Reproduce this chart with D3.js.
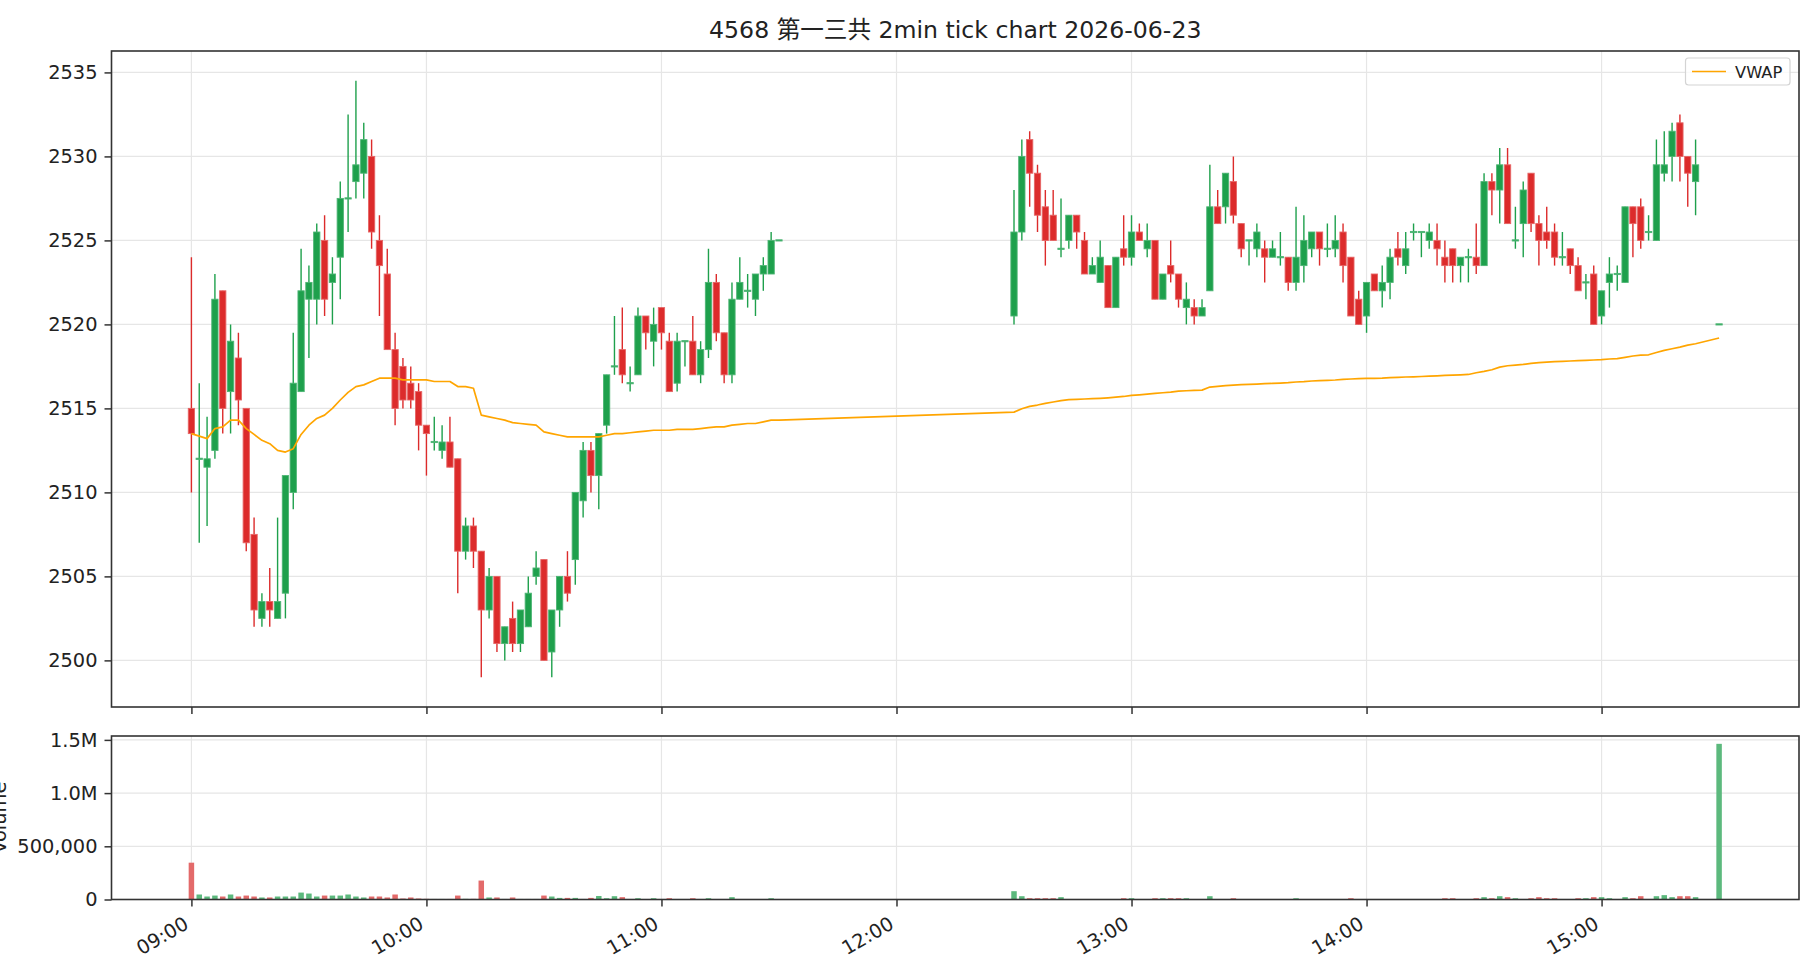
<!DOCTYPE html>
<html>
<head>
<meta charset="utf-8">
<script src="https://cdn.jsdelivr.net/npm/d3@7"></script>
<style>
  html, body { margin: 0; padding: 0; background: #ffffff; }
  svg { display: block; }
  text { font-family: "DejaVu Sans", "Noto Sans CJK JP", sans-serif; fill: #222; }
</style>
</head>
<body>
<svg id="chart" width="1820" height="980"></svg>
<script>
// ---------------- DATA ----------------
const chartTitle = "4568 第一三共 2min tick chart 2026-06-23";
const tradeDate = [2026, 5, 23];

const times = [
  "09:00","09:02","09:04","09:06","09:08","09:10","09:12","09:14","09:16","09:18",
  "09:20","09:22","09:24","09:26","09:28","09:30","09:32","09:34","09:36","09:38",
  "09:40","09:42","09:44","09:46","09:48","09:50","09:52","09:54","09:56","09:58",
  "10:00","10:02","10:04","10:06","10:08","10:10","10:12","10:14","10:16","10:18",
  "10:20","10:22","10:24","10:26","10:28","10:30","10:32","10:34","10:36","10:38",
  "10:40","10:42","10:44","10:46","10:48","10:50","10:52","10:54","10:56","10:58",
  "11:00","11:02","11:04","11:06","11:08","11:10","11:12","11:14","11:16","11:18",
  "11:20","11:22","11:24","11:26","11:28","11:30",
  "12:30","12:32","12:34","12:36","12:38","12:40","12:42","12:44","12:46","12:48",
  "12:50","12:52","12:54","12:56","12:58",
  "13:00","13:02","13:04","13:06","13:08","13:10","13:12","13:14","13:16","13:18",
  "13:20","13:22","13:24","13:26","13:28","13:30","13:32","13:34","13:36","13:38",
  "13:40","13:42","13:44","13:46","13:48","13:50","13:52","13:54","13:56","13:58",
  "14:00","14:02","14:04","14:06","14:08","14:10","14:12","14:14","14:16","14:18",
  "14:20","14:22","14:24","14:26","14:28","14:30","14:32","14:34","14:36","14:38",
  "14:40","14:42","14:44","14:46","14:48","14:50","14:52","14:54","14:56","14:58",
  "15:00","15:02","15:04","15:06","15:08","15:10","15:12","15:14","15:16","15:18",
  "15:20","15:22","15:24","15:30"
];

const opens = [
  2515.0,2512.0,2511.5,2512.5,2522.0,2516.0,2518.0,2515.0,2507.5,2502.5,
  2503.5,2502.5,2504.0,2510.0,2516.0,2521.5,2521.5,2525.0,2522.5,2524.0,
  2527.5,2528.5,2529.0,2530.0,2525.0,2523.0,2518.5,2517.5,2516.5,2516.0,
  2514.0,2513.0,2512.5,2513.0,2512.0,2506.5,2508.0,2506.5,2503.0,2505.0,
  2501.0,2502.5,2501.0,2502.0,2505.0,2506.0,2500.5,2503.0,2505.0,2506.0,
  2509.5,2512.5,2511.0,2514.0,2517.5,2518.5,2516.5,2517.0,2520.5,2519.0,
  2521.0,2519.0,2516.5,2519.0,2519.0,2517.0,2518.5,2522.5,2519.5,2517.0,
  2521.5,2522.0,2521.5,2523.0,2523.0,2525.0,
  2520.5,2525.5,2531.0,2529.0,2527.0,2526.5,2524.5,2525.0,2526.5,2525.0,
  2523.0,2522.5,2523.5,2521.0,2524.5,
  2524.0,2525.5,2524.5,2525.0,2521.5,2523.5,2523.0,2521.0,2521.0,2520.5,
  2522.0,2527.0,2527.0,2528.5,2526.0,2525.0,2524.5,2524.5,2524.0,2524.0,
  2524.0,2522.5,2523.5,2524.5,2525.5,2524.5,2524.5,2525.5,2524.0,2521.5,
  2520.5,2523.0,2522.0,2522.5,2524.5,2523.5,2525.5,2525.5,2525.0,2525.0,
  2524.0,2524.5,2523.5,2524.0,2524.0,2523.5,2528.5,2528.0,2529.5,2525.0,
  2526.0,2529.0,2526.0,2525.5,2525.5,2524.0,2524.5,2523.5,2522.5,2523.0,
  2520.5,2522.5,2523.0,2522.5,2527.0,2527.0,2525.5,2525.0,2529.0,2530.0,
  2532.0,2530.0,2528.5,2520.0
];

const highs = [
  2524.0,2516.5,2514.5,2523.0,2522.0,2520.0,2519.5,2515.0,2508.5,2504.0,
  2505.5,2508.5,2511.0,2519.5,2524.5,2523.5,2526.0,2526.5,2524.0,2528.5,
  2532.5,2534.5,2532.0,2531.0,2526.5,2524.5,2519.5,2518.0,2517.5,2516.5,
  2514.0,2514.5,2514.0,2514.5,2512.0,2508.5,2508.5,2506.5,2505.5,2505.0,
  2502.0,2503.5,2503.0,2505.0,2506.5,2506.0,2503.0,2505.0,2506.5,2510.0,
  2513.0,2513.0,2513.5,2517.0,2520.5,2521.0,2517.5,2521.0,2520.5,2521.0,
  2521.0,2519.5,2519.5,2519.0,2520.5,2519.0,2524.5,2523.0,2519.5,2522.5,
  2524.0,2523.0,2523.0,2524.0,2525.5,2525.0,
  2528.0,2531.0,2531.5,2529.5,2528.0,2528.0,2527.5,2526.5,2526.5,2525.5,
  2524.0,2525.0,2523.5,2524.0,2526.5,
  2526.5,2526.0,2526.0,2525.0,2523.0,2525.0,2523.0,2522.5,2521.5,2521.5,
  2529.5,2528.0,2529.0,2530.0,2526.0,2525.0,2526.0,2525.0,2525.0,2525.5,
  2524.0,2527.0,2526.5,2525.5,2525.5,2526.0,2526.5,2526.0,2524.0,2522.0,
  2522.5,2523.0,2523.5,2524.5,2525.5,2525.5,2526.0,2525.5,2526.0,2526.0,
  2525.0,2524.5,2524.0,2524.5,2526.0,2529.0,2529.0,2530.5,2530.5,2527.0,
  2528.5,2529.0,2526.5,2527.0,2526.0,2525.5,2524.5,2524.0,2523.0,2523.5,
  2522.0,2524.0,2523.5,2527.0,2527.0,2527.5,2526.5,2531.0,2531.5,2532.0,
  2532.5,2530.0,2531.0,2520.0
];

const lows = [
  2510.0,2507.0,2508.0,2512.0,2513.5,2513.5,2514.0,2506.5,2502.0,2502.0,
  2502.0,2502.5,2502.5,2509.0,2516.0,2518.0,2520.0,2520.5,2520.0,2521.5,
  2525.5,2527.5,2527.5,2524.5,2520.5,2518.5,2514.0,2515.0,2515.0,2512.5,
  2511.0,2512.5,2512.0,2511.5,2504.0,2506.0,2505.5,2499.0,2502.5,2500.5,
  2500.0,2500.5,2500.5,2502.0,2504.5,2500.0,2499.0,2502.0,2503.5,2504.5,
  2508.5,2510.0,2509.0,2513.5,2517.0,2516.5,2516.0,2517.0,2518.5,2517.5,
  2518.5,2516.0,2516.0,2517.5,2517.0,2516.5,2518.0,2519.0,2516.5,2516.5,
  2521.5,2521.0,2520.5,2522.0,2523.0,2525.0,
  2520.0,2525.0,2527.0,2525.5,2523.5,2525.0,2524.0,2524.5,2524.5,2523.0,
  2523.0,2522.5,2521.0,2521.0,2523.5,
  2523.5,2525.0,2524.0,2521.5,2521.5,2522.5,2521.0,2520.0,2520.0,2520.5,
  2522.0,2526.0,2526.0,2526.0,2524.0,2523.5,2524.0,2522.5,2524.0,2523.5,
  2522.0,2522.0,2522.5,2524.0,2523.5,2524.0,2524.0,2522.5,2520.5,2520.0,
  2519.5,2522.0,2521.0,2521.5,2523.5,2523.0,2525.0,2524.0,2524.5,2523.5,
  2522.5,2522.5,2522.5,2522.5,2523.0,2523.5,2526.5,2526.0,2526.0,2524.5,
  2524.0,2525.5,2523.5,2524.5,2523.5,2523.5,2523.0,2522.0,2521.5,2520.0,
  2520.0,2521.0,2522.0,2522.5,2524.0,2524.5,2525.0,2525.0,2528.5,2528.5,
  2528.5,2527.0,2526.5,2520.0
];

const closes = [
  2513.5,2512.0,2512.0,2521.5,2515.0,2519.0,2515.5,2507.0,2503.0,2503.5,
  2503.0,2503.5,2511.0,2516.5,2522.0,2522.5,2525.5,2521.5,2523.0,2527.5,
  2527.5,2529.5,2531.0,2525.5,2523.5,2518.5,2515.0,2515.5,2515.5,2514.0,
  2513.5,2513.0,2513.0,2511.5,2506.5,2508.0,2506.5,2503.0,2505.0,2501.0,
  2502.0,2501.0,2503.0,2504.0,2505.5,2500.0,2503.0,2505.0,2504.0,2510.0,
  2512.5,2511.0,2513.5,2517.0,2517.5,2517.0,2516.5,2520.5,2519.5,2520.0,
  2519.5,2516.0,2519.0,2519.0,2517.0,2518.5,2522.5,2519.5,2517.0,2521.5,
  2522.5,2522.0,2523.0,2523.5,2525.0,2525.0,
  2525.5,2530.0,2529.0,2526.5,2525.0,2525.0,2524.5,2526.5,2525.5,2523.0,
  2523.5,2524.0,2521.0,2524.0,2524.0,
  2525.5,2525.0,2525.0,2521.5,2523.0,2523.0,2521.5,2521.5,2520.5,2521.0,
  2527.0,2526.0,2529.0,2526.5,2524.5,2525.0,2525.5,2524.0,2524.5,2524.0,
  2522.5,2524.0,2525.0,2525.5,2524.5,2524.5,2525.0,2523.5,2520.5,2520.0,
  2522.5,2522.0,2522.5,2524.0,2524.0,2524.5,2525.5,2525.5,2525.5,2524.5,
  2523.5,2523.5,2524.0,2524.0,2523.5,2528.5,2528.0,2529.5,2526.0,2525.0,
  2528.0,2526.0,2525.0,2525.0,2524.0,2524.0,2523.5,2522.0,2522.5,2520.0,
  2522.0,2523.0,2523.0,2527.0,2526.0,2525.0,2525.5,2529.5,2529.5,2531.5,
  2530.0,2529.0,2529.5,2520.0
];

const volumes = [
  346000,47000,28000,37000,28000,47000,28000,37000,28000,19000,
  19000,28000,28000,28000,65000,56000,28000,37000,37000,37000,
  47000,28000,19000,28000,28000,19000,47000,9000,19000,9000,
  6000,5000,5000,5000,37000,6000,6000,178000,19000,19000,
  5000,19000,5000,5000,5000,37000,28000,15000,15000,15000,
  5000,15000,33000,12000,31000,22000,4000,12000,4000,12000,
  3000,12000,4000,3000,12000,4000,12000,4000,4000,22000,
  4000,3000,3000,4000,12000,3000,
  78000,31000,12000,12000,12000,12000,22000,3000,3000,3000,
  3000,3000,3000,3000,12000,
  12000,3000,3000,12000,12000,12000,12000,12000,3000,3000,
  31000,3000,3000,12000,3000,3000,3000,3000,3000,3000,
  3000,12000,3000,3000,3000,3000,3000,3000,12000,3000,
  3000,3000,3000,3000,3000,3000,3000,3000,3000,3000,
  12000,12000,3000,3000,12000,22000,12000,31000,22000,12000,
  3000,12000,22000,12000,12000,3000,3000,12000,12000,22000,
  22000,12000,3000,22000,12000,31000,3000,31000,41000,22000,
  31000,31000,22000,1463000
];

const vwap = [
  2513.5,2513.35,2513.2,2513.8,2513.9,2514.3,2514.3,2513.8,2513.45,2513.1,
  2512.9,2512.5,2512.4,2512.6,2513.45,2514.0,2514.4,2514.6,2515.0,2515.5,
  2515.95,2516.3,2516.4,2516.6,2516.8,2516.8,2516.8,2516.7,2516.7,2516.7,
  2516.7,2516.6,2516.6,2516.6,2516.3,2516.3,2516.2,2514.6,2514.5,2514.4,
  2514.3,2514.15,2514.1,2514.05,2514.0,2513.6,2513.5,2513.4,2513.3,2513.3,
  2513.3,2513.3,2513.3,2513.4,2513.5,2513.5,2513.55,2513.6,2513.65,2513.7,
  2513.7,2513.7,2513.75,2513.75,2513.75,2513.8,2513.85,2513.9,2513.9,2514.0,
  2514.05,2514.1,2514.1,2514.2,2514.3,2514.3,
  2514.78,2514.98,2515.12,2515.2,2515.3,2515.38,2515.46,2515.52,2515.54,2515.56,
  2515.58,2515.6,2515.63,2515.67,2515.71,
  2515.77,2515.81,2515.85,2515.89,2515.93,2515.97,2516.03,2516.05,2516.07,2516.09,
  2516.27,2516.31,2516.35,2516.39,2516.41,2516.43,2516.45,2516.47,2516.49,2516.51,
  2516.53,2516.57,2516.59,2516.63,2516.65,2516.67,2516.69,2516.73,2516.75,2516.77,
  2516.79,2516.79,2516.8,2516.83,2516.85,2516.87,2516.88,2516.9,2516.92,2516.94,
  2516.96,2516.98,2517.0,2517.02,2517.12,2517.2,2517.3,2517.46,2517.54,2517.58,
  2517.62,2517.68,2517.72,2517.76,2517.78,2517.8,2517.82,2517.84,2517.86,2517.88,
  2517.9,2517.94,2517.96,2518.04,2518.12,2518.17,2518.19,2518.33,2518.45,2518.55,
  2518.65,2518.77,2518.85,2519.19
];

const priceTicks = [2500, 2505, 2510, 2515, 2520, 2525, 2530, 2535];
const volumeTicks = [0, 500000, 1000000, 1500000];
const volumeTickLabels = ["0", "500,000", "1.0M", "1.5M"];
const hourTicks = ["09:00", "10:00", "11:00", "12:00", "13:00", "14:00", "15:00"];
const legendLabel = "VWAP";
const volumeAxisLabel = "Volume";

// ---------------- SETUP ----------------
const toDate = s => { const [h, m] = s.split(":").map(Number); return new Date(tradeDate[0], tradeDate[1], tradeDate[2], h, m, 0); };
const bars = times.map((t, i) => ({
  t: toDate(t), o: opens[i], h: highs[i], l: lows[i], c: closes[i], v: volumes[i], w: vwap[i]
}));

const L = 111.5, R = 1799;
const mainTop = 51, mainBot = 707;
const volTop = 736, volBot = 899.5;

const xMin = new Date(tradeDate[0], tradeDate[1], tradeDate[2], 8, 39, 36);
const xMax = new Date(tradeDate[0], tradeDate[1], tradeDate[2], 15, 50, 24);
const x = d3.scaleTime().domain([xMin, xMax]).range([L, R]);
const y = d3.scaleLinear().domain([2497.225, 2536.275]).range([mainBot, mainTop]);
const yv = d3.scaleLinear().domain([0, 1536600]).range([volBot, volTop]);

const minute = 60000;
const bodyW = x(new Date(xMin.getTime() + 1.6 * minute)) - x(xMin);
const volW = x(new Date(xMin.getTime() + 1.4 * minute)) - x(xMin);

const UP = "#1ea04c", UP_EDGE = "#4db574";
const DN = "#dc2b2b", DN_EDGE = "#e66565";
const VUP = "#5cb97d", VDN = "#e36a6a";
const GRID = "#e6e6e6", SPINE = "#333333";
const TICK_FS = 19.4;
const FONT = '"DejaVu Sans", "Noto Sans CJK JP", sans-serif';

const svg = d3.select("#chart");
svg.append("rect").attr("width", 1820).attr("height", 980).attr("fill", "#fff");

// clip paths
const defs = svg.append("defs");
defs.append("clipPath").attr("id", "clipMain").append("rect")
  .attr("x", L).attr("y", mainTop).attr("width", R - L).attr("height", mainBot - mainTop);
defs.append("clipPath").attr("id", "clipVol").append("rect")
  .attr("x", L).attr("y", volTop).attr("width", R - L).attr("height", volBot - volTop);

const hourDates = hourTicks.map(toDate);

// ---------------- GRIDS ----------------
const gMain = svg.append("g");
gMain.selectAll("line.hg").data(priceTicks).join("line")
  .attr("x1", L).attr("x2", R).attr("y1", d => y(d)).attr("y2", d => y(d))
  .attr("stroke", GRID).attr("stroke-width", 1.2);
gMain.selectAll("line.vg").data(hourDates).join("line")
  .attr("x1", d => x(d)).attr("x2", d => x(d)).attr("y1", mainTop).attr("y2", mainBot)
  .attr("stroke", GRID).attr("stroke-width", 1.2);

const gVol = svg.append("g");
gVol.selectAll("line.hg").data(volumeTicks).join("line")
  .attr("x1", L).attr("x2", R).attr("y1", d => yv(d)).attr("y2", d => yv(d))
  .attr("stroke", GRID).attr("stroke-width", 1.2);
gVol.selectAll("line.vg").data(hourDates).join("line")
  .attr("x1", d => x(d)).attr("x2", d => x(d)).attr("y1", volTop).attr("y2", volBot)
  .attr("stroke", GRID).attr("stroke-width", 1.2);

// ---------------- CANDLES ----------------
const gC = svg.append("g").attr("clip-path", "url(#clipMain)");
const up = d => d.c >= d.o;
gC.selectAll("line.wick").data(bars).join("line")
  .attr("x1", d => x(d.t)).attr("x2", d => x(d.t))
  .attr("y1", d => y(d.h)).attr("y2", d => y(d.l))
  .attr("stroke", d => up(d) ? UP : DN).attr("stroke-width", 1.4);
gC.selectAll("rect.body").data(bars).join("rect")
  .attr("x", d => x(d.t) - bodyW / 2)
  .attr("width", bodyW)
  .attr("y", d => { const t = y(Math.max(d.o, d.c)), b = y(Math.min(d.o, d.c)); return (b - t) < 1.2 ? (t + b) / 2 - 0.6 : t; })
  .attr("height", d => Math.max(1.2, y(Math.min(d.o, d.c)) - y(Math.max(d.o, d.c))))
  .attr("fill", d => up(d) ? UP : DN)
  .attr("stroke", d => up(d) ? UP_EDGE : DN_EDGE)
  .attr("stroke-width", 0.9);

// VWAP
const line = d3.line().x(d => x(d.t)).y(d => y(d.w));
gC.append("path").datum(bars).attr("d", line)
  .attr("fill", "none").attr("stroke", "#ffa500").attr("stroke-width", 1.7)
  .attr("stroke-linejoin", "round");

// ---------------- VOLUME ----------------
const gV = svg.append("g").attr("clip-path", "url(#clipVol)");
gV.selectAll("rect.vol").data(bars).join("rect")
  .attr("x", d => x(d.t) - volW / 2).attr("width", volW)
  .attr("y", d => yv(d.v)).attr("height", d => yv(0) - yv(d.v))
  .attr("fill", d => up(d) ? VUP : VDN);

// ---------------- AXES ----------------
const tickLen = 7, tickPad = 7;
function styleAxis(g) {
  g.select(".domain").remove();
  g.selectAll(".tick line").attr("stroke", SPINE).attr("stroke-width", 1.5);
  g.selectAll(".tick text").attr("fill", "#222").style("font-size", TICK_FS + "px")
    .style("font-family", FONT);
}

// main y axis
const axY = svg.append("g").attr("transform", `translate(${L},0)`)
  .call(d3.axisLeft(y).tickValues(priceTicks).tickFormat(d3.format("d")).tickSize(tickLen).tickPadding(tickPad));
styleAxis(axY);

// main x axis (ticks only)
const axXm = svg.append("g").attr("transform", `translate(0,${mainBot})`)
  .call(d3.axisBottom(x).tickValues(hourDates).tickFormat("").tickSize(tickLen));
styleAxis(axXm);

// volume y axis
const axYv = svg.append("g").attr("transform", `translate(${L},0)`)
  .call(d3.axisLeft(yv).tickValues(volumeTicks).tickFormat((d, i) => volumeTickLabels[i]).tickSize(tickLen).tickPadding(tickPad));
styleAxis(axYv);

// volume x axis
const axXv = svg.append("g").attr("transform", `translate(0,${volBot})`)
  .call(d3.axisBottom(x).tickValues(hourDates).tickFormat("").tickSize(tickLen));
styleAxis(axXv);

// rotated x labels
const fmtHM = d3.timeFormat("%H:%M");
const labH = TICK_FS * 1.15;
svg.append("g").selectAll("text.xl").data(hourDates).join("text")
  .attr("transform", d => `translate(${x(d) - 0.5 * labH + 1},${volBot + tickLen + tickPad - 1}) rotate(-30)`)
  .attr("text-anchor", "end").attr("dy", "0.9em")
  .style("font-size", TICK_FS + "px")
  .text(d => fmtHM(d));

// spines
[[mainTop, mainBot], [volTop, volBot]].forEach(([t, b]) => {
  svg.append("rect").attr("x", L).attr("y", t).attr("width", R - L).attr("height", b - t)
    .attr("fill", "none").attr("stroke", SPINE).attr("stroke-width", 1.6);
});

// volume y label (partly off-canvas like the original)
svg.append("text")
  .attr("transform", `translate(6,${(volTop + volBot) / 2}) rotate(-90)`)
  .attr("text-anchor", "middle")
  .style("font-size", TICK_FS + "px")
  .text(volumeAxisLabel);

// title
svg.append("text").attr("x", (L + R) / 2).attr("y", 38)
  .attr("text-anchor", "middle").style("font-size", "23.6px")
  .text(chartTitle);

// legend
const lg = svg.append("g");
lg.append("rect").attr("x", 1685.5).attr("y", 58).attr("width", 104.5).attr("height", 27)
  .attr("rx", 3).attr("fill", "#fff").attr("fill-opacity", 0.8)
  .attr("stroke", "#d4d4d4").attr("stroke-width", 1.2);
lg.append("line").attr("x1", 1692).attr("x2", 1726).attr("y1", 71.5).attr("y2", 71.5)
  .attr("stroke", "#ffa500").attr("stroke-width", 1.7);
lg.append("text").attr("x", 1735).attr("y", 77.5).style("font-size", "16.3px").text(legendLabel);
</script>
</body>
</html>
